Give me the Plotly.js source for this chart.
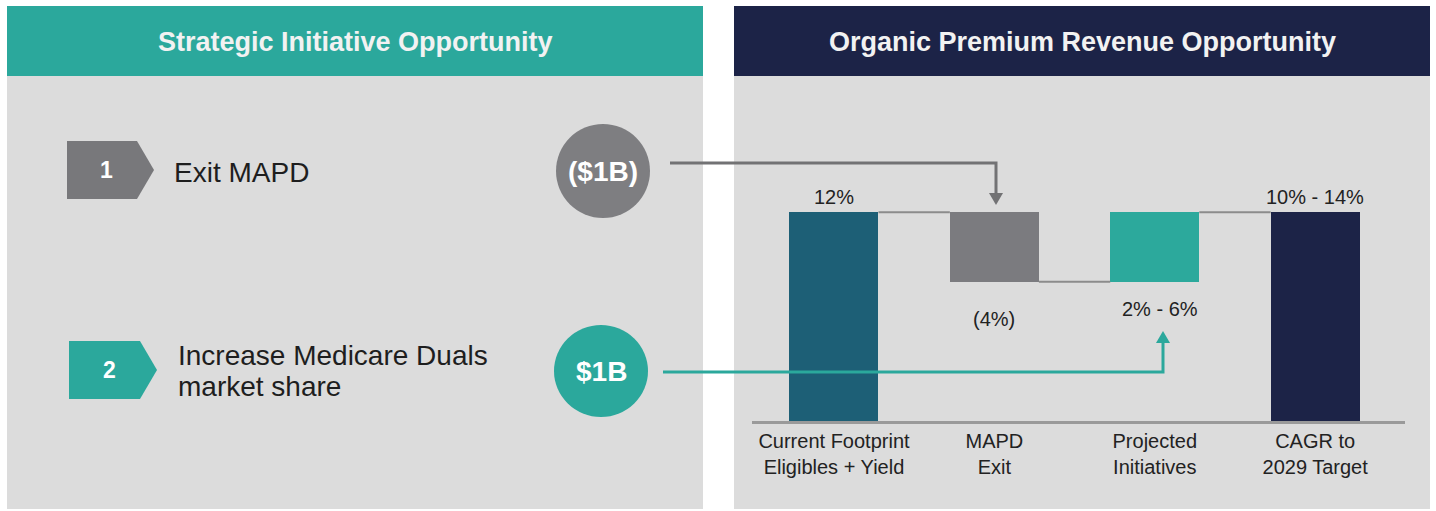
<!DOCTYPE html>
<html>
<head>
<meta charset="utf-8">
<script src="https://cdn.plot.ly/plotly-3.0.1.min.js"></script>
<style>
html,body{margin:0;padding:0;background:#ffffff;}
#chart{width:1436px;height:511px;}
</style>
</head>
<body>
<div id="chart"></div>
<script>
// ---- Data ----
const categories = ['Current Footprint<br>Eligibles + Yield', 'MAPD<br>Exit', 'Projected<br>Initiatives', 'CAGR to<br>2029 Target'];
const barStart = [0, 12, 8, 0];     // % level where each bar starts
const barEnd = [12, 8, 12, 12];     // % level where each bar ends
const valueLabels = ['12%', '(4%)', '2% - 6%', '10% - 14%'];
const leftTitle = 'Strategic Initiative Opportunity';
const rightTitle = 'Organic Premium Revenue Opportunity';
const initiativeNumbers = ['1', '2'];
const initiativeTexts = [['Exit MAPD'], ['Increase Medicare Duals', 'market share']];
const initiativeValues = ['($1B)', '$1B'];

// ---- Styling / layout helpers ----
const W = 1436, H = 511;
const px = x => x / W;
const py = y => 1 - y / H;
const TEAL = '#2ba89c', NAVY = '#1c2347', GRAYBG = '#dcdcdc';
const barColors = ['#1d5f76', '#7b7b7f', '#2ca99c', '#1c2347'];
const xIdx = categories.map((_, i) => i);
const bases = barStart.map((s, i) => Math.min(s, barEnd[i]));
const heights = barStart.map((s, i) => Math.abs(barEnd[i] - s));
const BW = 0.555;

const traces = [{
  type: 'bar',
  x: xIdx,
  y: heights,
  base: bases,
  width: BW,
  marker: {color: barColors, line: {width: 0}},
  hoverinfo: 'skip',
  showlegend: false
}];

const shapes = [];
// panels
shapes.push({type:'rect', xref:'paper', yref:'paper', x0:px(7), x1:px(703), y0:py(509), y1:py(6), fillcolor:GRAYBG, line:{width:0}, layer:'below'});
shapes.push({type:'rect', xref:'paper', yref:'paper', x0:px(7), x1:px(703), y0:py(76), y1:py(6), fillcolor:TEAL, line:{width:0}, layer:'below'});
shapes.push({type:'rect', xref:'paper', yref:'paper', x0:px(734), x1:px(1430), y0:py(509), y1:py(6), fillcolor:GRAYBG, line:{width:0}, layer:'below'});
shapes.push({type:'rect', xref:'paper', yref:'paper', x0:px(734), x1:px(1430), y0:py(76), y1:py(6), fillcolor:NAVY, line:{width:0}, layer:'below'});

// connectors between bars (data coords)
for (let i = 0; i < categories.length - 1; i++) {
  shapes.push({type:'line', xref:'x', yref:'y', x0:i + BW/2, x1:i + 1 - BW/2, y0:barEnd[i], y1:barEnd[i], line:{color:'#8c8c8c', width:2}});
}

// chevrons
function chevron(x0, y0, y1, shoulder, tip, color) {
  const ym = (y0 + y1) / 2;
  return {type:'path', xref:'paper', yref:'paper',
    path:`M${px(x0)},${py(y0)} L${px(shoulder)},${py(y0)} L${px(tip)},${py(ym)} L${px(shoulder)},${py(y1)} L${px(x0)},${py(y1)} Z`,
    fillcolor:color, line:{width:0}};
}
shapes.push(chevron(67, 141, 199, 137, 154, '#78787b'));
shapes.push(chevron(69, 341, 399, 140, 157, TEAL));

// circles
shapes.push({type:'circle', xref:'paper', yref:'paper', x0:px(556), x1:px(650), y0:py(218), y1:py(124), fillcolor:'#7e7e81', line:{width:0}});
shapes.push({type:'circle', xref:'paper', yref:'paper', x0:px(554), x1:px(648), y0:py(417), y1:py(325), fillcolor:TEAL, line:{width:0}});

// arrows
shapes.push({type:'path', xref:'paper', yref:'paper', path:`M${px(670)},${py(163)} L${px(996)},${py(163)} L${px(996)},${py(195)}`, line:{color:'#727274', width:3}});
shapes.push({type:'path', xref:'paper', yref:'paper', path:`M${px(989)},${py(193)} L${px(1003)},${py(193)} L${px(996)},${py(205)} Z`, fillcolor:'#727274', line:{width:0}});
shapes.push({type:'path', xref:'paper', yref:'paper', path:`M${px(663)},${py(372)} L${px(1163)},${py(372)} L${px(1163)},${py(341)}`, line:{color:TEAL, width:3}});
shapes.push({type:'path', xref:'paper', yref:'paper', path:`M${px(1156)},${py(343)} L${px(1170)},${py(343)} L${px(1163)},${py(331)} Z`, fillcolor:TEAL, line:{width:0}});

const FONT = 'Liberation Sans, Arial, sans-serif';
const annotations = [];
annotations.push({xref:'paper', yref:'paper', x:px(355), y:py(42), text:`<b>${leftTitle}</b>`, showarrow:false, font:{family:FONT, size:27, color:'#f2f2f2'}, xanchor:'center', yanchor:'middle'});
annotations.push({xref:'paper', yref:'paper', x:px(1082), y:py(42), text:`<b>${rightTitle}</b>`, showarrow:false, font:{family:FONT, size:27, color:'#f2f2f2'}, xanchor:'center', yanchor:'middle'});

// initiative numbers / texts / values
const rowY = [170, 370];
const textY = [[172], [355, 386]];
const numX = [106, 109];
const textX = [172, 176];
const circX = [603, 601];
initiativeNumbers.forEach((n, i) => {
  annotations.push({xref:'paper', yref:'paper', x:px(numX[i]), y:py(rowY[i]), text:`<b>${n}</b>`, showarrow:false, font:{family:FONT, size:23, color:'#ffffff'}, xanchor:'center', yanchor:'middle'});
  initiativeTexts[i].forEach((line, j) => {
    annotations.push({xref:'paper', yref:'paper', x:px(textX[i]), y:py(textY[i][j]), text:line, showarrow:false, font:{family:FONT, size:28, color:'#1e1e1e'}, xanchor:'left', yanchor:'middle', align:'left'});
  });
  annotations.push({xref:'paper', yref:'paper', x:px(circX[i]), y:py(rowY[i] + 1), text:`<b>${initiativeValues[i]}</b>`, showarrow:false, font:{family:FONT, size:28, color:'#ffffff'}, xanchor:'center', yanchor:'middle'});
});

// bar value labels
const labelAbove = [true, false, false, true];
const labelShift = [2, -24, -14, 2];
const labelXOff = [0, 0, 0.03, 0];
valueLabels.forEach((t, i) => {
  const top = Math.max(barStart[i], barEnd[i]);
  const bot = Math.min(barStart[i], barEnd[i]);
  annotations.push({xref:'x', yref:'y', x:i + labelXOff[i], y: labelAbove[i] ? top : bot, text:t, showarrow:false,
    font:{family:FONT, size:20, color:'#222222'}, xanchor:'center', yanchor: labelAbove[i] ? 'bottom' : 'top', yshift:labelShift[i]});
});

const layout = {
  width: W, height: H,
  margin: {l:0, r:0, t:0, b:0},
  paper_bgcolor: '#ffffff',
  plot_bgcolor: 'rgba(0,0,0,0)',
  showlegend: false,
  bargap: 0,
  xaxis: {
    domain: [px(752), px(1405)],
    range: [-0.511, 3.56],
    tickvals: xIdx,
    ticktext: categories,
    ticks: '',
    showgrid: false,
    zeroline: false,
    showline: true,
    linecolor: '#9a9a9a',
    linewidth: 3,
    tickfont: {family: FONT, size: 20, color: '#222222'},
    fixedrange: true
  },
  yaxis: {
    domain: [py(421), py(160)],
    range: [0, 15],
    showgrid: false,
    zeroline: false,
    showline: false,
    showticklabels: false,
    ticks: '',
    fixedrange: true
  },
  shapes: shapes,
  annotations: annotations
};

Plotly.newPlot('chart', traces, layout, {displayModeBar: false, staticPlot: true});
</script>
</body>
</html>
